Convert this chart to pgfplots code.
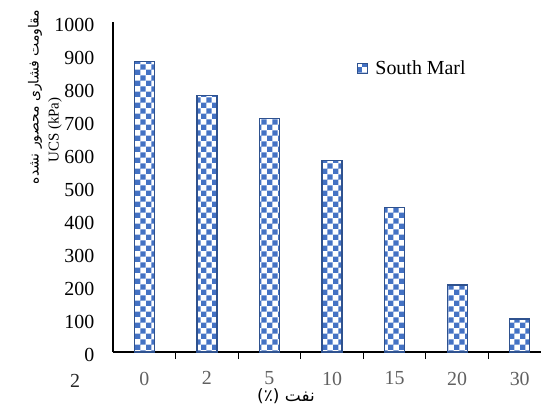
\documentclass[border=0pt]{standalone}
\usepackage{pgfplots}
\pgfplotsset{compat=1.18}
\usetikzlibrary{patterns}
\usepackage{fontspec}
\setmainfont{Liberation Serif}
\newfontfamily\arabicfont[Script=Arabic]{DejaVu Sans}
\TeXXeTstate=1
\definecolor{barblue}{HTML}{4472C4}
\definecolor{bardark}{HTML}{2F528F}
\begin{document}
\begin{tikzpicture}
\begin{axis}[
  at={(0,0)}, anchor=south west,
  scale only axis, width=428bp, height=330bp,
  ybar, bar width=20bp,
  xmin=-0.5, xmax=6.34, ymin=0, ymax=1000,
  axis lines*=left,
  axis line style={line width=1.5bp, black, -},
  xtick={0,1,2,3,4,5,6},
  xticklabels={0,2,5,10,15,20,30},
  minor xtick={0.5,1.5,2.5,3.5,4.5,5.5},
  major x tick style={draw=none},
  minor x tick style={black, line width=1.2bp},
  minor tick length=7bp,
  tick align=outside,
  ytick={0,100,...,1000},
  major y tick style={draw=none},
  /pgf/number format/assume math mode=true,
  /pgf/number format/1000 sep={},
  ticklabel style={font=\fontsize{20}{24}\selectfont},
  yticklabel style={xshift=-11bp, yshift=-3bp, text=black},
  xticklabel style={yshift=-12bp, text=black!62},
  legend style={draw=none, fill=none, at={(0.57,0.86)}, anchor=west,
    font=\fontsize{20}{24}\selectfont, inner sep=0pt},
  legend image code/.code={\draw[#1] (0bp,-5bp) rectangle (10bp,5bp); \path (15bp,0bp);},
  clip=false,
]
\addplot[draw=bardark, line width=1.3bp, pattern=checkerboard, pattern color=barblue]
  coordinates {(0,880) (1,778) (2,708) (3,580) (4,437) (5,203) (6,100)};
\addlegendentry{South Marl}
\end{axis}
\node[rotate=90, font=\fontsize{14}{16}\selectfont] at (-78bp,255bp) {\arabicfont\beginR مقاومت فشاری محصور نشده\endR};
\node[rotate=90, font=\fontsize{15}{18}\selectfont] at (-58bp,222bp) {UCS (kPa)};
\node[font=\fontsize{17}{20}\selectfont] at (173bp,-44bp) {\arabicfont (٪) \beginR نفت\endR};
\node[font=\fontsize{20}{24}\selectfont, text=black!85] at (-38bp,-29bp) {2};
\pgfresetboundingbox
\useasboundingbox (-113bp,-54bp) rectangle (428bp,352bp);
\end{tikzpicture}
\end{document}
